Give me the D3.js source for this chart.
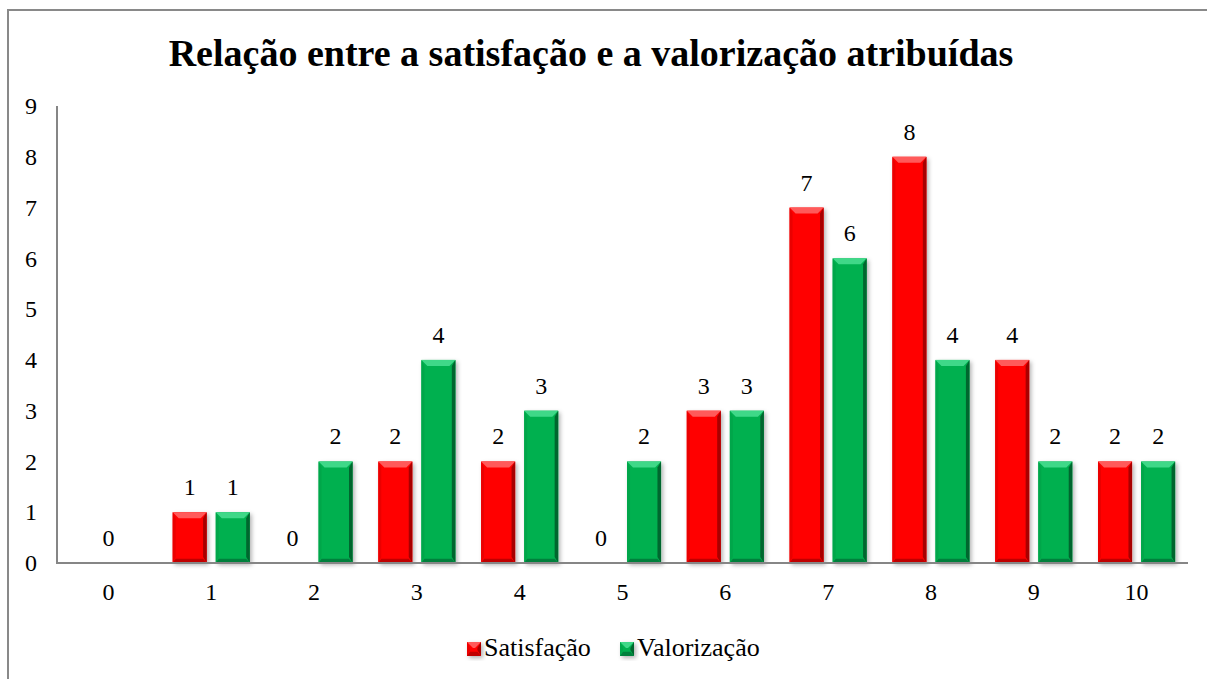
<!DOCTYPE html>
<html>
<head>
<meta charset="utf-8">
<script src="https://cdn.jsdelivr.net/npm/d3@7"></script>
<style>
  body { margin: 0; background: #fff; }
  svg { display: block; }
  svg text { font-family: "Liberation Serif", "Times New Roman", serif; fill: #000; }
</style>
</head>
<body>
<svg id="chart" width="1207" height="679"></svg>
<script>
// data
var categories = ["0", "1", "2", "3", "4", "5", "6", "7", "8", "9", "10"];
var satisfacao = [0, 1, 0, 2, 2, 0, 3, 7, 8, 4, 2];
var valorizacao = [null, 1, 2, 4, 3, 2, 3, 6, 4, 2, 2];
var seriesNames = ["Satisfação", "Valorização"];
var yTicks = [0, 1, 2, 3, 4, 5, 6, 7, 8, 9];
var title = "Relação entre a satisfação e a valorização atribuídas";

var palette = {
  "Satisfação": { base: "#ff0000", top: "#ff5a5a", left: "#ea0000", right: "#a80000", bottom: "#c00000" },
  "Valorização": { base: "#00b050", top: "#3fd888", left: "#00a64a", right: "#00662e", bottom: "#00803c" }
};

var svg = d3.select("#chart");
var margin = { left: 57, right: 1188, top: 106, bottom: 563 };

// drop shadow for the bars
var defs = svg.append("defs");
var f = defs.append("filter").attr("id", "shadow")
    .attr("x", "-20%").attr("y", "-20%").attr("width", "150%").attr("height", "150%");
f.append("feDropShadow").attr("dx", 2).attr("dy", 2).attr("stdDeviation", 2)
    .attr("flood-color", "#000").attr("flood-opacity", 0.3);

// outer frame (only left and top edges are in view)
svg.append("line").attr("x1", 8).attr("y1", 10).attr("x2", 1207).attr("y2", 10)
    .attr("stroke", "#898989").attr("stroke-width", 2);
svg.append("line").attr("x1", 8).attr("y1", 9).attr("x2", 8).attr("y2", 679)
    .attr("stroke", "#898989").attr("stroke-width", 2);

svg.append("text")
    .attr("x", 591).attr("y", 66)
    .attr("text-anchor", "middle")
    .attr("font-size", 38).attr("font-weight", "bold")
    .text(title);

var x0 = d3.scaleBand().domain(categories)
    .range([margin.left, margin.right])
    .paddingInner(0.25).paddingOuter(0.125);
var x1 = d3.scaleBand().domain(seriesNames)
    .range([0, x0.bandwidth()])
    .paddingInner(0.21);
var y = d3.scaleLinear().domain([0, 9]).range([margin.bottom, margin.top]);

// y axis labels
var yAxis = d3.axisLeft(y).tickValues(yTicks).tickSize(0).tickPadding(20).tickFormat(d3.format("d"));
var gy = svg.append("g").attr("transform", "translate(" + margin.left + ",0)").call(yAxis);
gy.select(".domain").remove();
gy.selectAll("text").attr("font-size", 24);

// x axis labels
var xAxisOuter = d3.scaleBand().domain(categories).range([margin.left, margin.right]);
var xAxis = d3.axisBottom(xAxisOuter).tickSize(0).tickPadding(20);
var gx = svg.append("g").attr("transform", "translate(0," + margin.bottom + ")").call(xAxis);
gx.select(".domain").remove();
gx.selectAll("text").attr("font-size", 24);

// rows: one per category with both values
var rows = categories.map(function(c, i) {
  return { cat: c, values: [
    { name: seriesNames[0], v: satisfacao[i], other: valorizacao[i] },
    { name: seriesNames[1], v: valorizacao[i], other: satisfacao[i] }
  ]};
});

function bevelBar(g, bx, by, w, h, col) {
  var b = Math.min(6, h / 2);
  g.append("rect").attr("x", bx).attr("y", by).attr("width", w).attr("height", h)
      .attr("fill", col.base).attr("filter", "url(#shadow)");
  var pts = function(a) { return a.map(function(p) { return p.join(","); }).join(" "); };
  g.append("polygon").attr("fill", col.top)
      .attr("points", pts([[bx, by], [bx + w, by], [bx + w - b, by + b], [bx + b, by + b]]));
  g.append("polygon").attr("fill", col.left)
      .attr("points", pts([[bx, by], [bx + b * 0.5, by + b], [bx + b * 0.5, by + h - b], [bx, by + h]]));
  g.append("polygon").attr("fill", col.right)
      .attr("points", pts([[bx + w, by], [bx + w, by + h], [bx + w - b * 0.6, by + h - b], [bx + w - b * 0.6, by + b]]));
  g.append("polygon").attr("fill", col.bottom)
      .attr("points", pts([[bx, by + h], [bx + w, by + h], [bx + w - b * 0.6, by + h - b * 0.7], [bx + b * 0.5, by + h - b * 0.7]]));
}

var bars = svg.append("g");
rows.forEach(function(r) {
  r.values.forEach(function(d) {
    if (d.v === null) return;
    var bx = x0(r.cat) + x1(d.name);
    var h = y(0) - y(d.v);
    if (h > 0) bevelBar(bars, bx, y(d.v), x1.bandwidth(), h, palette[d.name]);
  });
});

// axis lines
svg.append("line").attr("x1", margin.left).attr("y1", margin.bottom)
    .attr("x2", margin.right).attr("y2", margin.bottom)
    .attr("stroke", "#868686").attr("stroke-width", 2);
svg.append("line").attr("x1", margin.left).attr("y1", margin.top)
    .attr("x2", margin.left).attr("y2", margin.bottom + 1)
    .attr("stroke", "#868686").attr("stroke-width", 2);

// data labels
rows.forEach(function(r) {
  r.values.forEach(function(d) {
    if (d.v === null) return;
    var cx = x0(r.cat) + x1(d.name) + x1.bandwidth() / 2;
    if (d.other === null) cx = x0(r.cat) + x0.bandwidth() / 2;
    svg.append("text")
        .attr("x", cx).attr("y", y(d.v) - 17)
        .attr("text-anchor", "middle")
        .attr("font-size", 24)
        .text(d.v);
  });
});

// legend
var legend = svg.append("g");
var lx = [467, 620];
seriesNames.forEach(function(name, i) {
  var g = legend.append("g");
  bevelBar(g, lx[i], 642, 14, 14, palette[name]);
  g.append("text").attr("x", lx[i] + 17).attr("y", 656)
      .attr("font-size", 26).text(name);
});
</script>
</body>
</html>
